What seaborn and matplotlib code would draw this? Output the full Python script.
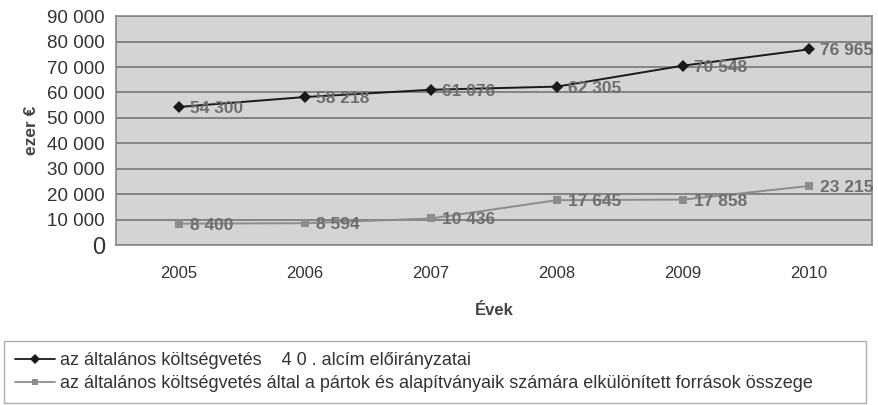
import numpy as np
import pandas as pd
import matplotlib
matplotlib.use("Agg")
import matplotlib.pyplot as plt
import seaborn as sns

# data
years = [2005, 2006, 2007, 2008, 2009, 2010]
budget_40 = [54300, 58218, 61076, 62305, 70548, 76965]
party_funds = [8400, 8594, 10436, 17645, 17858, 23215]
label_1 = "az általános költségvetés    4 0 . alcím előirányzatai"
label_2 = ("az általános költségvetés által a pártok és alapítványaik "
           "számára elkülönített források összege")

sns.set_style("white")
plt.rcParams['font.family'] = ['Liberation Sans', 'DejaVu Sans']

df = pd.DataFrame({
    "year": years * 2,
    "value": budget_40 + party_funds,
    "series": [label_1] * len(years) + [label_2] * len(years),
})

fig = plt.figure(figsize=(8.79, 4.05), dpi=100)
ax = fig.add_axes([0.132, 0.395, 0.860, 0.565])
ax.set_facecolor("#d4d4d4")

sns.lineplot(data=df, x="year", y="value", hue="series", style="series",
             palette=["#1a1a1a", "#8c8c8c"], markers=["D", "s"], dashes=False,
             markersize=6, linewidth=1.4, markeredgewidth=0, ax=ax, legend=False)

# data labels
for xs, ys in [(years, budget_40), (years, party_funds)]:
    for x, y in zip(xs, ys):
        ax.annotate(f"{y:,}".replace(",", " "), (x, y), xytext=(8, -1),
                    textcoords="offset points", ha="left", va="center",
                    fontsize=12.5, fontweight="bold", color="#6e6e6e")

ax.set_ylim(0, 90000)
ax.set_xlim(years[0] - 0.5, years[-1] + 0.5)
yt = np.arange(0, 90001, 10000)
ax.set_yticks(yt)
ax.set_yticklabels([f"{v:,}".replace(",", " ") for v in yt], fontsize=13.5, color="#333333")
ax.get_yticklabels()[0].set_fontsize(17)
ax.set_xticks(years)
ax.set_xticklabels([str(y) for y in years], fontsize=12, color="#333333")
ax.set_xticks(np.arange(years[0] - 0.5, years[-1] + 0.6, 1), minor=True)
ax.tick_params(axis="x", which="major", length=0, pad=15)
ax.tick_params(axis="x", which="minor", length=5, color="#777777", direction="out")
ax.tick_params(axis="y", length=5, color="#777777", direction="out", pad=3)
ax.grid(axis="y", color="#777777", linewidth=1.2)
ax.set_axisbelow(True)
for s in ax.spines.values():
    s.set_color("#888888")
    s.set_linewidth(1.2)

ax.set_xlabel("Évek", fontsize=12, fontweight="bold", color="#444444", labelpad=16)
ax.set_ylabel("ezer €", fontsize=12.5, fontweight="bold", color="#444444", labelpad=6)

handles = [
    plt.Line2D([], [], color="#1a1a1a", marker="D", markersize=5, linewidth=1.3, markeredgewidth=0),
    plt.Line2D([], [], color="#8c8c8c", marker="s", markersize=5, linewidth=1.3, markeredgewidth=0),
]
leg = fig.legend(handles, [label_1, label_2], loc="upper left",
                 bbox_to_anchor=(0.005, 0.0, 0.98, 1 - 341 / 405), mode="expand",
                 fontsize=13, frameon=True, fancybox=False, handlelength=2.2,
                 handletextpad=0.3, borderaxespad=0, labelspacing=0.35, borderpad=0.6)
leg.get_frame().set_edgecolor("#999999")
leg.get_frame().set_linewidth(1.0)
for t in leg.get_texts():
    t.set_color("#333333")

fig.savefig("out.png", dpi=100)
